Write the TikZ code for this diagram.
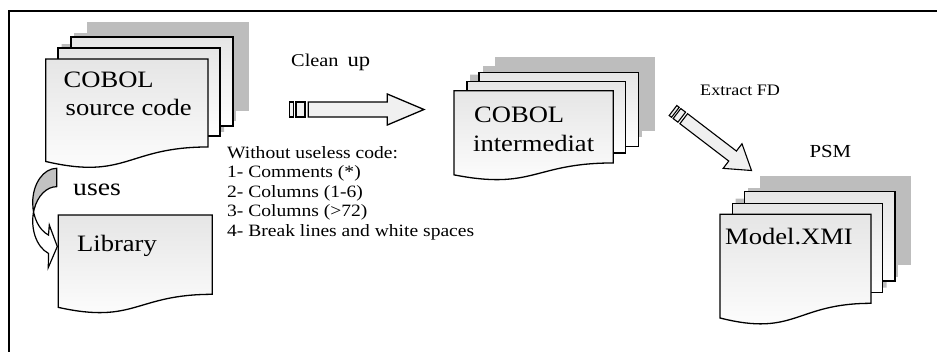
\documentclass[tikz,border=0pt]{standalone}
\usepackage{fontspec}
\setmainfont[FakeStretch=1.13]{Liberation Serif}
\usetikzlibrary{calc}

\tikzset{
  sheet/.style={top color=black!10, bottom color=white, draw=black, line width=1.3pt, line join=miter},
  sheetshadow/.style={fill=black!26, draw=none},
  blockarrow/.style={fill=black!6, draw=black, line width=1.3pt, line join=miter},
  bigtext/.style={font=\fontsize{23.5}{28.5}\selectfont, anchor=base west, inner sep=0pt},
  smalltext/.style={font=\fontsize{17.3}{19.5}\selectfont, anchor=base west, inner sep=0pt},
  labeltext/.style={font=\fontsize{16}{18}\selectfont, anchor=base west, inner sep=0pt},
}

% document page with a wavy lower edge: style, x, y, width, height
\newcommand\wavesheet[5]{%
  \path[#1] (#2,#3) -- ({#2+#4},#3) -- ({#2+#4},{#3+0.802*#5})
    .. controls ({#2+0.5*#4},{#3+0.802*#5}) and ({#2+0.5*#4},{#3+1.107*#5}) ..
    (#2,{#3+0.934*#5}) -- cycle;}
% plain page seen behind the front one: style, x1, y1, x2, y2
\newcommand\backsheet[5]{\path[#1] (#2,#3) rectangle (#4,#5);}

\begin{document}
\begin{tikzpicture}[x=1pt,y=-1pt]
\useasboundingbox (0,0) rectangle (937,351);
\clip (0,0) rectangle (937,351);

% frame
\draw[line width=1.3pt] (9,360) -- (9,11) -- (950,11);

% ---------- COBOL source code stack ----------
\begin{scope}[shift={(16,-15)}]
  \backsheet{sheetshadow}{71}{37}{233}{126}
  \backsheet{sheetshadow}{58}{48}{220}{136}
  \wavesheet{sheetshadow}{45.7}{59}{162.3}{109.7}
\end{scope}
\backsheet{sheet}{71}{37}{233}{126}
\backsheet{sheet}{58}{48}{220}{136}
\wavesheet{sheet}{45.7}{59}{162.3}{109.7}
\node[bigtext] (src1) at (63.5,87.3) {COBOL};
\node[bigtext] (src2) at (65.5,115.5) {source code};

% ---------- Library page ----------
\wavesheet{sheet}{58.3}{215}{154}{98.9}
\node[bigtext] (lib) at (77,251.7) {Library};

% ---------- curved "uses" arrow ----------
\coordinate (usesTop) at (56.7,168.3);
\coordinate (usesTip) at (57.3,246.5);
% back side of the ribbon
\path[fill=black!24] (usesTop) arc[start angle=270, end angle=180, x radius=24, y radius=34.4]
  -- ++(0,18.4) arc[start angle=180, end angle=270, x radius=24, y radius=34.4] -- cycle;
% front side of the ribbon with its head
\path[fill=white] (32.7,202.7) arc[start angle=180, end angle=110, x radius=24, y radius=34.4]
  -- (49.3,225) -- (usesTip) -- (48.3,267.5) -- (48.5,253.4)
  arc[start angle=110, end angle=180, x radius=24, y radius=34.4] -- cycle;
\draw[line width=1.2pt, line join=miter] (usesTop) arc[start angle=270, end angle=110, x radius=24, y radius=34.4]
  -- (49.3,225) -- (usesTip) -- (48.3,267.5) -- (48.5,253.4)
  arc[start angle=110, end angle=270, x radius=24, y radius=34.4] -- cycle;
\node[bigtext, font=\fontsize{24.5}{28}\selectfont] (uses) at (73,195) {uses};

% ---------- Clean up arrow ----------
\node[labeltext, font=\fontsize{18}{20}\selectfont] (clean) at (291,66)
  {Clean\hspace{9pt}{\fontsize{20}{22}\selectfont up}};
\coordinate (cleanFrom) at (289.3,109.5);
\coordinate (cleanTo) at (424,109.5);
\draw[blockarrow] ($(cleanFrom)+(0,-7.5)$) rectangle ($(cleanFrom)+(4,7.5)$);
\draw[blockarrow] ($(cleanFrom)+(6.7,-7.5)$) rectangle ($(cleanFrom)+(15.7,7.5)$);
\draw[blockarrow] ($(cleanFrom)+(19,-7.5)$) -- ($(cleanTo)+(-36.7,-7.5)$) -- ($(cleanTo)+(-36.7,-15.5)$)
  -- (cleanTo) -- ($(cleanTo)+(-36.7,15.5)$) -- ($(cleanTo)+(-36.7,7.5)$) -- ($(cleanFrom)+(19,7.5)$) -- cycle;

\node[smalltext] (l0) at (227,158) {Without useless code:};
\node[smalltext] (l1) at (227,177.5) {1- Comments (*)};
\node[smalltext] (l2) at (227,197) {2- Columns (1-6)};
\node[smalltext] (l3) at (227,216.5) {3- Columns (>72)};
\node[smalltext] (l4) at (227,236) {4- Break lines and white spaces};

% ---------- COBOL intermediate stack ----------
\begin{scope}[shift={(16,-16)}]
  \backsheet{sheetshadow}{479}{72.5}{638.7}{146.7}
  \backsheet{sheetshadow}{467}{81.7}{625.7}{153}
  \wavesheet{sheetshadow}{454}{90.7}{159.3}{90.1}
\end{scope}
\backsheet{sheet}{479}{72.5}{638.7}{146.7}
\backsheet{sheet}{467}{81.7}{625.7}{153}
\wavesheet{sheet}{454}{90.7}{159.3}{90.1}
\node[bigtext] (mid1) at (474,122.7) {COBOL};
\node[bigtext] (mid2) at (473,151.7) {intermediat};

% ---------- Extract FD arrow ----------
\node[labeltext] (extract) at (700,95) {Extract FD};
\begin{scope}[shift={(673,110.5)}, rotate=-37.4]
  \draw[blockarrow, line width=1.1pt] (0,-6.3) rectangle (3,6.3);
  \draw[blockarrow, line width=1.1pt] (5,-6.3) rectangle (11,6.3);
  \draw[blockarrow, line width=1.1pt] (13.5,-6.3) -- (75,-6.3) -- (75,-15.5) -- (98.8,0)
    -- (75,15.5) -- (75,6.3) -- (13.5,6.3) -- cycle;
\end{scope}

% ---------- Model.XMI stack ----------
\node[labeltext, font=\fontsize{18.4}{20}\selectfont] (psm) at (809.3,157.3) {PSM};
\begin{scope}[shift={(15.7,-15.7)}]
  \backsheet{sheetshadow}{744.3}{191.7}{895}{281}
  \backsheet{sheetshadow}{732.3}{203.3}{882.7}{292.7}
  \wavesheet{sheetshadow}{720}{214.3}{151}{111}
\end{scope}
\backsheet{sheet}{744.3}{191.7}{895}{281}
\backsheet{sheet}{732.3}{203.3}{882.7}{292.7}
\wavesheet{sheet}{720}{214.3}{151}{111}
\node[bigtext] (xmi) at (725,244) {Model.XMI};
\end{tikzpicture}
\end{document}
